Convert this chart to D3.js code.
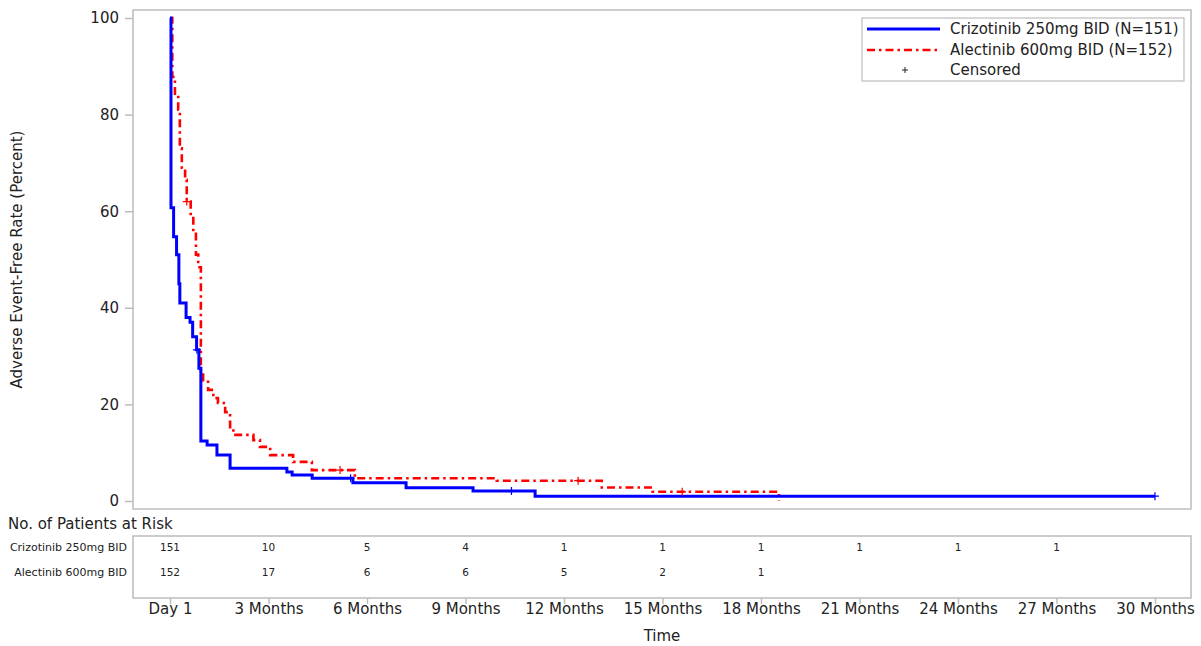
<!DOCTYPE html>
<html>
<head>
<meta charset="utf-8">
<script src="https://cdn.jsdelivr.net/npm/d3@7"></script>
<style>
  body { margin: 0; background: #fff; }
  text { font-family: "DejaVu Sans", Verdana, sans-serif; fill: #222; }
</style>
</head>
<body>
<div id="chart"></div>
<script>
// Kaplan-Meier step data, time in months, rate in percent
var crizTime = [0, 0.03, 0.11, 0.2, 0.27, 0.3, 0.49, 0.61, 0.69, 0.81, 0.88, 0.94, 1.13, 1.43, 1.83, 3.56, 3.72, 4.33, 5.57, 7.19, 9.23, 11.12, 30];
var crizRate = [100, 60.7, 54.7, 51, 45, 41, 38, 37, 34, 31.3, 27.5, 12.4, 11.6, 9.5, 6.8, 6.0, 5.4, 4.7, 3.8, 2.75, 2.07, 1.0, 1.0];
var crizCensTime = [0.82, 5.5, 10.4, 30];
var crizCensRate = [31.3, 4.7, 2.07, 1.0];

var alecTime = [0, 0.07, 0.15, 0.25, 0.3, 0.36, 0.46, 0.51, 0.63, 0.71, 0.79, 0.86, 0.94, 1.01, 1.16, 1.32, 1.46, 1.68, 1.83, 1.93, 2.54, 2.74, 3.05, 3.75, 4.32, 5.63, 9.95, 13.15, 14.7, 18.55];
var alecRate = [100, 87.8, 84, 81, 73, 69, 66.5, 62, 59, 55.8, 51, 48.4, 26.5, 25, 23, 21.3, 20.3, 18.4, 15.3, 13.7, 12.6, 11.2, 9.5, 8.1, 6.4, 4.7, 4.2, 2.8, 1.9, 0];
var alecCensTime = [0.51, 5.18, 12.43, 15.6];
var alecCensRate = [62, 6.4, 4.2, 1.9];

var tickMonths = [0, 3, 6, 9, 12, 15, 18, 21, 24, 27, 30];
var tickLabels = ["Day 1", "3 Months", "6 Months", "9 Months", "12 Months", "15 Months", "18 Months", "21 Months", "24 Months", "27 Months", "30 Months"];
var yTicks = [0, 20, 40, 60, 80, 100];

var groupNames = ["Crizotinib 250mg BID", "Alectinib 600mg BID"];
var legendNames = ["Crizotinib 250mg BID (N=151)", "Alectinib 600mg BID (N=152)"];
var crizAtRisk = [151, 10, 5, 4, 1, 1, 1, 1, 1, 1];
var alecAtRisk = [152, 17, 6, 6, 5, 2, 1];

var width = 1201, height = 646;
var frame = {left: 133, right: 1191, top: 10, bottom: 509};
var riskBox = {top: 536, bottom: 598};
var gridColor = "#bcbcbc";

var x = d3.scaleLinear().domain([0, 30]).range([170, 1155]);
var y = d3.scaleLinear().domain([0, 100]).range([501, 18]);

var svg = d3.select("#chart").append("svg")
    .attr("width", width)
    .attr("height", height);

// plot frame
svg.append("rect")
    .attr("x", frame.left).attr("y", frame.top)
    .attr("width", frame.right - frame.left).attr("height", frame.bottom - frame.top)
    .attr("fill", "none").attr("stroke", gridColor).attr("stroke-width", 1.5);

// y axis
var yAxis = svg.append("g")
    .attr("transform", "translate(" + frame.left + ",0)")
    .call(d3.axisLeft(y).tickValues(yTicks).tickSize(8).tickPadding(6));
yAxis.select(".domain").remove();
yAxis.selectAll("line").attr("stroke", gridColor).attr("stroke-width", 1.5);
yAxis.selectAll("text").style("font-size", "15px").style("font-family", "DejaVu Sans").attr("fill", "#222");

svg.append("text")
    .attr("transform", "translate(22," + ((frame.top + frame.bottom) / 2) + ") rotate(-90)")
    .attr("text-anchor", "middle")
    .style("font-size", "15px")
    .text("Adverse Event-Free Rate (Percent)");

// curves
function pairs(t, r) {
  return t.map(function(d, i) { return [d, r[i]]; });
}
var line = d3.line()
    .x(function(d) { return x(d[0]); })
    .y(function(d) { return y(d[1]); })
    .curve(d3.curveStepAfter);

svg.append("path")
    .datum(pairs(alecTime, alecRate))
    .attr("d", line)
    .attr("fill", "none")
    .attr("stroke", "#ff0000")
    .attr("stroke-width", 2.6)
    .attr("stroke-dasharray", "8,4,2.5,4");

svg.append("path")
    .datum(pairs(crizTime, crizRate))
    .attr("d", line)
    .attr("fill", "none")
    .attr("stroke", "#0000ff")
    .attr("stroke-width", 3);

function censor(t, r, color) {
  svg.append("g").selectAll("path")
    .data(pairs(t, r))
    .enter().append("path")
    .attr("d", function(d) {
      var cx = x(d[0]), cy = y(d[1]);
      return "M" + (cx - 4) + "," + cy + "H" + (cx + 4) + "M" + cx + "," + (cy - 4) + "V" + (cy + 4);
    })
    .attr("stroke", color)
    .attr("stroke-width", 1.2);
}
censor(alecCensTime, alecCensRate, "#ff0000");
censor(crizCensTime, crizCensRate, "#0000ff");

// legend
var legend = svg.append("g");
legend.append("rect")
    .attr("x", 862).attr("y", 18).attr("width", 322).attr("height", 63)
    .attr("fill", "#fff").attr("stroke", gridColor).attr("stroke-width", 1.2);
legend.append("line").attr("x1", 867).attr("x2", 940).attr("y1", 29).attr("y2", 29)
    .attr("stroke", "#0000ff").attr("stroke-width", 3);
legend.append("line").attr("x1", 867).attr("x2", 940).attr("y1", 50).attr("y2", 50)
    .attr("stroke", "#ff0000").attr("stroke-width", 2.6).attr("stroke-dasharray", "8,4,2.5,4");
legend.append("path").attr("d", "M902,70H908M905,67V73").attr("stroke", "#222").attr("stroke-width", 1);
var legendRows = legendNames.concat(["Censored"]);
legend.selectAll("text.leg")
    .data(legendRows)
    .enter().append("text")
    .attr("class", "leg")
    .attr("x", 950)
    .attr("y", function(d, i) { return 29 + i * 20.5; })
    .attr("dy", "0.36em")
    .style("font-size", "15px")
    .text(function(d) { return d; });

// at-risk table
svg.append("text")
    .attr("x", 8).attr("y", 529)
    .style("font-size", "15px")
    .text("No. of Patients at Risk");

svg.append("rect")
    .attr("x", frame.left).attr("y", riskBox.top)
    .attr("width", frame.right - frame.left).attr("height", riskBox.bottom - riskBox.top)
    .attr("fill", "none").attr("stroke", gridColor).attr("stroke-width", 1.5);

var rowY = [547, 572];
svg.selectAll("text.grp")
    .data(groupNames)
    .enter().append("text")
    .attr("class", "grp")
    .attr("x", 127)
    .attr("y", function(d, i) { return rowY[i]; })
    .attr("dy", "0.36em")
    .attr("text-anchor", "end")
    .style("font-size", "11px")
    .text(function(d) { return d; });

[crizAtRisk, alecAtRisk].forEach(function(row, r) {
  svg.append("g").selectAll("text")
    .data(row)
    .enter().append("text")
    .attr("x", function(d, i) { return x(tickMonths[i]); })
    .attr("y", rowY[r])
    .attr("dy", "0.36em")
    .attr("text-anchor", "middle")
    .style("font-size", "10.5px")
    .text(function(d) { return d; });
});

// x axis below the table
var xAxis = svg.append("g")
    .attr("transform", "translate(0," + riskBox.bottom + ")")
    .call(d3.axisBottom(x).tickValues(tickMonths).tickSize(6)
      .tickFormat(function(d, i) { return tickLabels[i]; }));
xAxis.select(".domain").remove();
xAxis.selectAll("line").attr("stroke", gridColor).attr("stroke-width", 1.5);
xAxis.selectAll("text")
    .attr("y", 5).attr("dy", "0.71em")
    .style("font-size", "15px").style("font-family", "DejaVu Sans").attr("fill", "#222");

svg.append("text")
    .attr("x", (frame.left + frame.right) / 2)
    .attr("y", 641)
    .attr("text-anchor", "middle")
    .style("font-size", "15px")
    .text("Time");
</script>
</body>
</html>
